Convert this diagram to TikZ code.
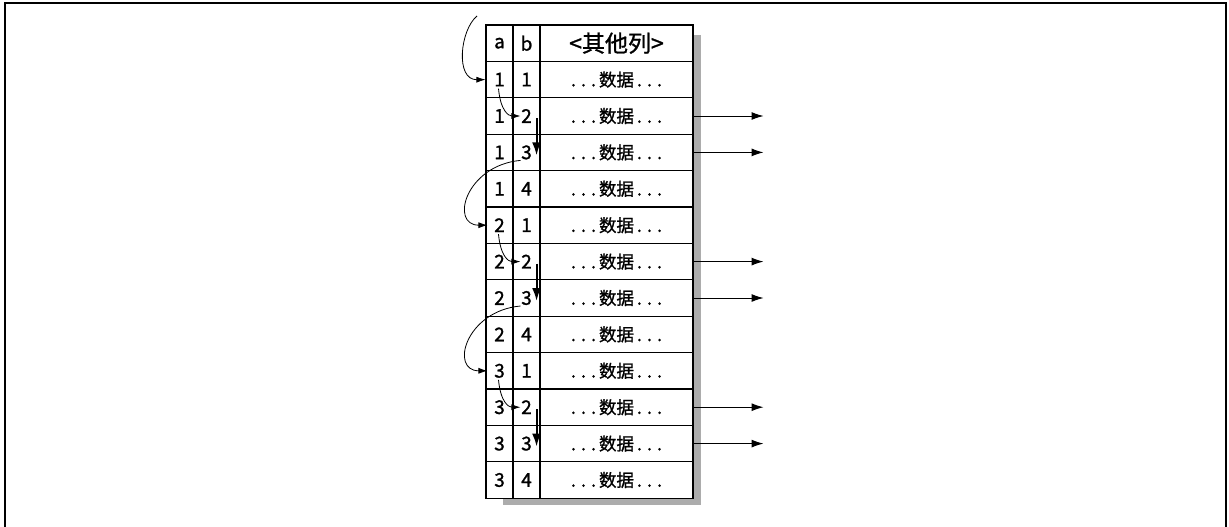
\documentclass[tikz,border=0pt]{standalone}
\usepackage{fontspec}
\setmainfont{Noto Sans CJK SC}[FakeBold=1.2,AutoFakeBold=1.2]
\usetikzlibrary{calc,positioning,arrows.meta}

\newcommand\dotrun{.\kern5.2pt.\kern5.2pt.}

\begin{document}
\begin{tikzpicture}[x=1pt,y=1pt,
  cell/.style={draw,line width=1.1pt,inner sep=0pt,minimum height=36.4pt,
    font=\fontsize{17.5}{19}\selectfont\bfseries},
  key/.style={cell,minimum width=27pt,font=\fontsize{19}{21}\selectfont\bfseries},
  link/.style={line width=0.8pt,-{Latex[length=9pt,width=6pt]}},
  drop/.style={line width=2pt,-{Latex[length=13pt,width=9pt]}},
  outarrow/.style={line width=1pt,-{Latex[length=12pt,width=8pt]}}
]
\useasboundingbox (0,0) rectangle (1229,-527);
\draw[line width=1.5pt] (5,-527) -- (5,-3) -- (1226,-3) -- (1226,-527);

\fill[gray!65] (693,-35) rectangle (701,-505);
\fill[gray!65] (503,-498) rectangle (701,-505);

\node[key] (a0) at (499.5,-43.2) {a};
\node[key] (b0) at (526.5,-43.2) {b};
\node[cell,minimum width=153pt,font=\fontsize{23}{25}\selectfont\bfseries] (d0) at (616.5,-43.2) {<其他列>};
\foreach \i in {1,...,12}{
  \pgfmathtruncatemacro\va{int((\i-1)/4)+1}
  \pgfmathtruncatemacro\vb{mod(\i-1,4)+1}
  \node[key] (a\i) at (499.5,{-25-36.4*(\i+0.5)}) {\va};
  \node[key] (b\i) at (526.5,{-25-36.4*(\i+0.5)}) {\vb};
  \node[cell,minimum width=153pt] (d\i) at (616.5,{-25-36.4*(\i+0.5)}) {\dotrun\kern3pt数据\kern3pt\dotrun};
}

\coordinate (top) at (477,-16);
\draw[link] (top) .. controls (460,-30) and (455,-80) .. (a1.west);

\foreach \k in {0,1,2}{
  \pgfmathtruncatemacro\ra{4*\k+1}
  \pgfmathtruncatemacro\rb{4*\k+2}
  \pgfmathtruncatemacro\rc{4*\k+3}
  \pgfmathtruncatemacro\rn{4*\k+5}
  \draw[link] ($(a\ra.center)+(-1,-9)$) .. controls +(2,-22) and +(-12,0) .. ($(b\rb.west)+(8,0)$);
  \draw[drop] ($(b\rb.east)+(-4,-2)$) -- ($(b\rc.east)+(-4,-3)$);
  \coordinate (e\rb) at ($(d\rb.east)+(70,0)$);
  \coordinate (e\rc) at ($(d\rc.east)+(70,0)$);
  \draw[outarrow] (d\rb.east) -- (e\rb);
  \draw[outarrow] (d\rc.east) -- (e\rc);
  \ifnum\k<2
    \draw[link] ($(b\rc.center)+(-6,-8)$) .. controls +(-55,-5) and +(-38,0) .. ($(a\rn.west)+(2,0)$);
  \fi
}
\end{tikzpicture}
\end{document}
